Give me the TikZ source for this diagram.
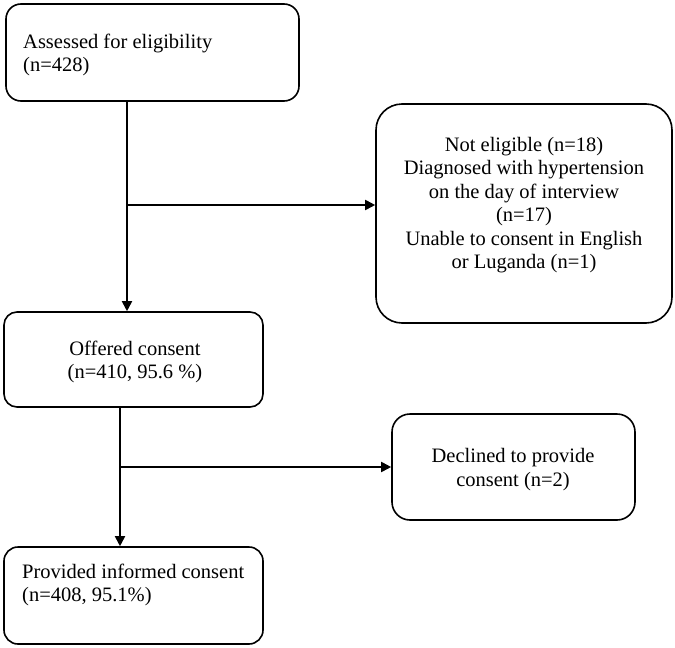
\documentclass[tikz,border=0pt]{standalone}
\usepackage{fontspec}
\setmainfont{Liberation Serif}
\usetikzlibrary{arrows.meta}
\begin{document}
\begin{tikzpicture}[x=1pt,y=-1pt,
  box/.style={draw=black,line width=1.6pt,inner sep=0pt},
  txt/.style={inner sep=0pt,font=\fontsize{20.5}{23.5}\selectfont},
  conn/.style={line width=1.8pt,draw=black},
  arr/.style={conn,-{Triangle[length=10pt,width=10pt]}}]
\useasboundingbox (0,0) rectangle (675,648);
% boxes
\node[box,rounded corners=15pt,minimum width=293pt,minimum height=97pt] (a) at (152.5,52.5) {};
\node[txt,anchor=west,align=left] (ta) at (23,55) {Assessed for eligibility\\(n=428)};
\node[box,rounded corners=26pt,minimum width=296pt,minimum height=219pt] (c) at (524,213.5) {};
\node[txt,align=center] (tc) at (524,205) {Not eligible (n=18)\\Diagnosed with hypertension\\on the day of interview\\(n=17)\\Unable to consent in English\\or Luganda (n=1)};
\node[box,rounded corners=13pt,minimum width=259pt,minimum height=95pt] (b) at (133.5,359.5) {};
\node[txt,align=center] (tb) at (135,362) {Offered consent\\(n=410, 95.6 \%)};
\node[box,rounded corners=18pt,minimum width=243pt,minimum height=106pt] (e) at (513.5,467) {};
\node[txt,align=center] (te) at (513,469.5) {Declined to provide\\consent (n=2)};
\node[box,rounded corners=14pt,minimum width=259pt,minimum height=97pt] (d) at (133.5,595.5) {};
\node[txt,anchor=west,align=left] (td) at (22,585) {Provided informed consent\\(n=408, 95.1\%)};
% connectors
\coordinate (j1) at (127,205);
\coordinate (j2) at (120,467);
\draw[arr] (a.south -| j1) -- (b.north -| j1);
\draw[arr] (j1) -- (c.west |- j1);
\draw[arr] (b.south -| j2) -- (d.north -| j2);
\draw[arr] (j2) -- (e.west |- j2);
\end{tikzpicture}
\end{document}
